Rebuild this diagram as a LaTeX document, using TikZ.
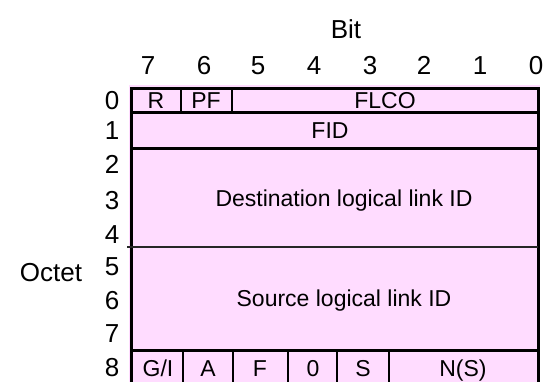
\documentclass[tikz,border=0pt]{standalone}
\usepackage{fontspec}
\setmainfont{Liberation Sans}
\definecolor{cellpink}{HTML}{FFDCFF}
\tikzset{
  lbl/.style={inner sep=0pt, anchor=base, font=\fontsize{26}{26}\selectfont},
  fld/.style={inner sep=0pt, anchor=base, font=\fontsize{23}{23}\selectfont},
  frame/.style={line width=3pt},
  thin/.style={line width=1.6pt},
}
\begin{document}
\begin{tikzpicture}[x=1pt,y=-1pt]
\useasboundingbox (0,0) rectangle (544,381);
\begin{scope}
\clip (0,0) rectangle (544,381);
% fill
\fill[cellpink] (129,85) rectangle (540,384);
% outer frame
\draw[frame] (131,384) -- (131,88) -- (538,88) -- (538,384);
% row dividers
\draw[frame] (131,112) -- (538,112);
\draw[frame] (131,148) -- (538,148);
\draw[line width=2pt, black!85] (127,247) -- (538,247);
\draw[frame] (131,350) -- (538,350);
% row 0 dividers
\draw[line width=2pt] (181,88) -- (181,112);
\draw[line width=2pt] (232,88) -- (232,112);
% row 8 dividers
\foreach \xx in {183,233,288,337,389}
  \draw[thin] (\xx,350) -- (\xx,384);
\end{scope}
% titles
\node[lbl] (bit) at (346,38.5) {Bit};
\node[lbl] (octet) at (51,281) {Octet};
% bit numbers
\node[lbl] (b7) at (148,74.5) {7};
\node[lbl] (b6) at (204,74.5) {6};
\node[lbl] (b5) at (258,74.5) {5};
\node[lbl] (b4) at (314,74.5) {4};
\node[lbl] (b3) at (370,74.5) {3};
\node[lbl] (b2) at (424,74.5) {2};
\node[lbl] (b1) at (480,74.5) {1};
\node[lbl] (b0) at (536,74.5) {0};
% octet numbers
\node[lbl] (o0) at (112,109) {0};
\node[lbl] (o1) at (112,139) {1};
\node[lbl] (o2) at (112,173) {2};
\node[lbl] (o3) at (112,209) {3};
\node[lbl] (o4) at (112,243) {4};
\node[lbl] (o5) at (112,275) {5};
\node[lbl] (o6) at (112,309) {6};
\node[lbl] (o7) at (112,342) {7};
\node[lbl] (o8) at (112,376) {8};
% fields
\node[fld] (fR) at (156,108) {R};
\node[fld] (fPF) at (206,108) {PF};
\node[fld] (fFLCO) at (385,108) {FLCO};
\node[fld] (fFID) at (330,138) {FID};
\node[fld] (fdst) at (344,206) {Destination logical link ID};
\node[fld] (fsrc) at (344,306) {Source logical link ID};
\node[fld] (fGI) at (158,376) {G/I};
\node[fld] (fA) at (208,376) {A};
\node[fld] (fF) at (260,376) {F};
\node[fld] (f0) at (313,376) {0};
\node[fld] (fS) at (363,376) {S};
\node[fld] (fNS) at (463,376) {N(S)};
\end{tikzpicture}
\end{document}
